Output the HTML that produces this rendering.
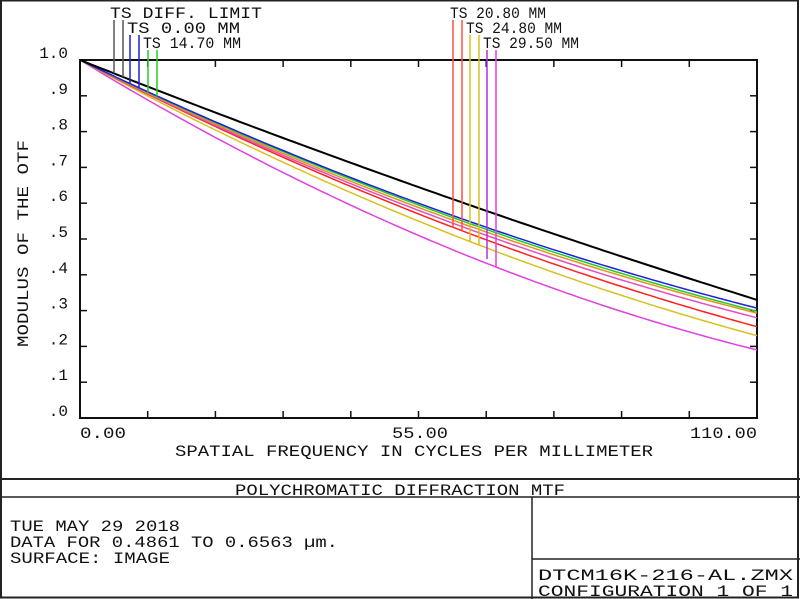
<!DOCTYPE html>
<html><head><meta charset="utf-8"><style>
html,body{margin:0;padding:0;background:#fff;}
svg{display:block;}
text{font-family:"Liberation Mono","DejaVu Sans Mono",monospace;fill:#111;font-size:16px;}
</style></head><body>
<svg id="s" width="800" height="599" viewBox="0 0 800 599" xmlns="http://www.w3.org/2000/svg">
<rect x="1" y="0.5" width="797" height="597" fill="none" stroke="#222" stroke-width="2"/>
<line x1="0" y1="479" x2="800" y2="479" stroke="#222" stroke-width="2"/>
<line x1="0" y1="497" x2="800" y2="497" stroke="#222" stroke-width="1.5"/>
<line x1="532" y1="497" x2="532" y2="599" stroke="#222" stroke-width="1.5"/>
<line x1="532" y1="559" x2="800" y2="559" stroke="#222" stroke-width="1.5"/>
<text x="400" y="495" text-anchor="middle" textLength="330" lengthAdjust="spacingAndGlyphs">POLYCHROMATIC DIFFRACTION MTF</text>
<text x="10" y="531" textLength="170" lengthAdjust="spacingAndGlyphs">TUE MAY 29 2018</text>
<text x="10" y="547" textLength="328" lengthAdjust="spacingAndGlyphs">DATA FOR 0.4861 TO 0.6563 µm.</text>
<text x="10" y="563" textLength="160" lengthAdjust="spacingAndGlyphs">SURFACE: IMAGE</text>
<text x="538" y="580" textLength="255" lengthAdjust="spacingAndGlyphs">DTCM16K-216-AL.ZMX</text>
<text x="538" y="596" textLength="255" lengthAdjust="spacingAndGlyphs">CONFIGURATION 1 OF 1</text>
<g id="plot"></g>
</svg>
<script>
var g=document.getElementById('plot'),NS='http://www.w3.org/2000/svg';
function el(t,a,txt){var e=document.createElementNS(NS,t);for(var k in a)e.setAttribute(k,a[k]);if(txt)e.textContent=txt;g.appendChild(e);return e;}
var X0=80,X1=757,Y0=418,Y1=60;
function px(v){return X0+(X1-X0)*v/110;}function py(m){return Y0-(Y0-Y1)*m;}
el('path',{d:'M80 60 V418 H757 V60 Z',fill:'none',stroke:'#111','stroke-width':2});
for(var i=1;i<10;i++){var x=X0+i*(X1-X0)/10;el('line',{x1:x,y1:418,x2:x,y2:411,stroke:'#111','stroke-width':1.5});el('line',{x1:x,y1:60,x2:x,y2:67,stroke:'#111','stroke-width':1.5});}
var lab=['.0','.1','.2','.3','.4','.5','.6','.7','.8','.9','1.0'];
for(var i=0;i<=10;i++){var y=py(i/10);if(i>0&&i<10){el('line',{x1:80,y1:y,x2:87,y2:y,stroke:'#111','stroke-width':1.5});el('line',{x1:757,y1:y,x2:750,y2:y,stroke:'#111','stroke-width':1.5});}
el('text',{x:68,y:y-2,'text-anchor':'end'},lab[i]);}
el('text',{x:80,y:438,textLength:46,lengthAdjust:'spacingAndGlyphs'},'0.00');
el('text',{x:392,y:438,textLength:56,lengthAdjust:'spacingAndGlyphs'},'55.00');
el('text',{x:690,y:438,textLength:67,lengthAdjust:'spacingAndGlyphs'},'110.00');
el('text',{x:175,y:456,textLength:478,lengthAdjust:'spacingAndGlyphs'},'SPATIAL FREQUENCY IN CYCLES PER MILLIMETER');
el('text',{x:0,y:0,transform:'translate(28,347) rotate(-90)',textLength:207,lengthAdjust:'spacingAndGlyphs'},'MODULUS OF THE OTF');
var C=[['#e040e0',.51,.19],['#d8c020',.55,.23],['#ff2020',.57,.255],['#e050c0',.58,.28],['#e89020',.588,.293],['#20d020',.595,.298],['#2020e0',.60,.307],['#000',.645,.33]];
function f(c,v){var a1=c[1],a2=c[2];var b=((a2-1)-2*(a1-1))/6050;var a=(a1-1-3025*b)/55;return 1+a*v+b*v*v;}
C.forEach(function(c){var d='';for(var v=0;v<=110;v+=1)d+=(v?'L':'M')+px(v).toFixed(1)+' '+py(f(c,v)).toFixed(1);el('path',{d:d,fill:'none',stroke:c[0],'stroke-width':c[0]=='#000'?2:1.5});});
var L=[[114,20,'#555',7],[123,20,'#555',7],[130,35,'#2020e0',6],[139,35,'#2020e0',6],[148,50,'#20d020',5],[157,50,'#20d020',5],
[453,20,'#ff5040',2],[462,20,'#ff5040',2],[470,35,'#d8c020',1],[479,35,'#d8c020',1],[487,50,'#b030e0',0],[496,50,'#e040e0',0]];
L.forEach(function(l){var v=(l[0]-X0)/(X1-X0)*110;var yb=py(f(C[l[3]],v));if(l[0]==487)yb=259;el('line',{x1:l[0],y1:l[1],x2:l[0],y2:yb,stroke:l[2],'stroke-width':1.5});});
el('text',{x:110,y:18,textLength:152,lengthAdjust:'spacingAndGlyphs'},'TS DIFF. LIMIT');
el('text',{x:127,y:33,textLength:113,lengthAdjust:'spacingAndGlyphs'},'TS 0.00 MM');
el('text',{x:143,y:48,textLength:98,lengthAdjust:'spacingAndGlyphs'},'TS 14.70 MM');
el('text',{x:450,y:18,textLength:96,lengthAdjust:'spacingAndGlyphs'},'TS 20.80 MM');
el('text',{x:466,y:33,textLength:96,lengthAdjust:'spacingAndGlyphs'},'TS 24.80 MM');
el('text',{x:483,y:48,textLength:96,lengthAdjust:'spacingAndGlyphs'},'TS 29.50 MM');
</script>
</body></html>
